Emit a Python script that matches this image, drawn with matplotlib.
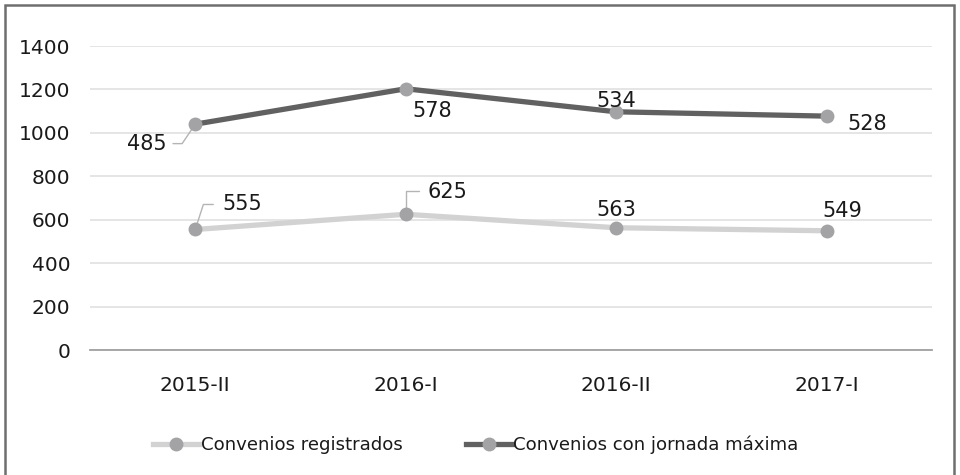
import matplotlib
matplotlib.use("Agg")
import matplotlib.pyplot as plt
from matplotlib.patches import Rectangle
from matplotlib.lines import Line2D
import numpy as np

categories = ["2015-II", "2016-I", "2016-II", "2017-I"]
registrados = [555, 625, 563, 549]
jornada = [485, 578, 534, 528]
series_names = ["Convenios registrados", "Convenios con jornada máxima"]
yticks = [0, 200, 400, 600, 800, 1000, 1200, 1400]

plt.rcParams['font.family'] = ['DejaVu Sans']

light = "#d2d2d2"
dark = "#616161"
marker_c = "#a3a3a6"
text_c = "#1a1a1a"
leader_c = "#b4b4b4"
FS_TICK = 14.5
FS_LAB = 15
FS_LEG = 13.1

fig = plt.figure(figsize=(9.6, 4.75), dpi=100)
ax = fig.add_axes([90/960, 1-350/475, (932-90)/960, (350-46)/475])

x = np.arange(len(categories))
stacked = np.array(registrados) + np.array(jornada)

ax.plot(x, registrados, color=light, lw=3.8, marker='o', ms=9,
        mfc=marker_c, mec=marker_c, solid_capstyle='round', zorder=3)
ax.plot(x, stacked, color=dark, lw=3.8, marker='o', ms=9,
        mfc=marker_c, mec=marker_c, solid_capstyle='round', zorder=3)

ax.set_xlim(-0.5, 3.5)
ax.set_ylim(0, 1400)
ax.set_yticks(yticks)
ax.set_xticks(x)
ax.set_xticklabels(categories)
ax.tick_params(axis='both', length=0, labelsize=FS_TICK, colors=text_c)
ax.tick_params(axis='x', pad=19)
ax.tick_params(axis='y', pad=14)
ax.grid(axis='y', color='#e0e0e0', lw=1.2)
ax.set_axisbelow(True)
for s in ['top', 'right', 'left']:
    ax.spines[s].set_visible(False)
ax.spines['bottom'].set_color('#a0a0a0')
ax.spines['bottom'].set_linewidth(1.3)

def leader(xp, yp, off, angB):
    ax.annotate('', (xp, yp), xytext=off, textcoords='offset points',
                arrowprops=dict(arrowstyle='-', color=leader_c, lw=1.0,
                                shrinkA=0, shrinkB=0,
                                connectionstyle=f"angle,angleA=0,angleB={angB},rad=0"),
                zorder=2)

# labels for registrados
reg_offsets = [(34, 18), (30, 16), (0, 13), (11, 14)]
for i, v in enumerate(registrados):
    dx, dy = reg_offsets[i]
    ax.annotate(str(v), (x[i], v), xytext=(dx, dy), textcoords='offset points',
                ha='center', va='center', fontsize=FS_LAB, color=text_c, zorder=4)
leader(x[0], registrados[0], (13, 18), 72)
leader(x[1], registrados[1], (9.5, 17), 90)

jor_offsets = [(-35, -14), (19, -16), (0, 8), (29, -6)]
for i, v in enumerate(jornada):
    dx, dy = jor_offsets[i]
    ax.annotate(str(v), (x[i], stacked[i]), xytext=(dx, dy), textcoords='offset points',
                ha='center', va='center', fontsize=FS_LAB, color=text_c, zorder=4)
leader(x[0], stacked[0], (-16, -14), 56)

handles = [Line2D([0], [0], color=light, lw=3.8, marker='o', ms=9, mfc=marker_c, mec=marker_c),
           Line2D([0], [0], color=dark, lw=3.8, marker='o', ms=9, mfc=marker_c, mec=marker_c)]
fig.legend(handles, series_names, loc='center', bbox_to_anchor=(476/960, 1-445/475),
           ncol=2, frameon=False, fontsize=FS_LEG, handlelength=2.5, handletextpad=0.1,
           columnspacing=3.5, labelcolor=text_c)

fig.patches.append(Rectangle((5/960, -0.01), (954-5)/960, 1-5/475+0.01, transform=fig.transFigure,
                             fill=False, ec='#6e6e6e', lw=1.8))

fig.savefig("out.png", dpi=100)
